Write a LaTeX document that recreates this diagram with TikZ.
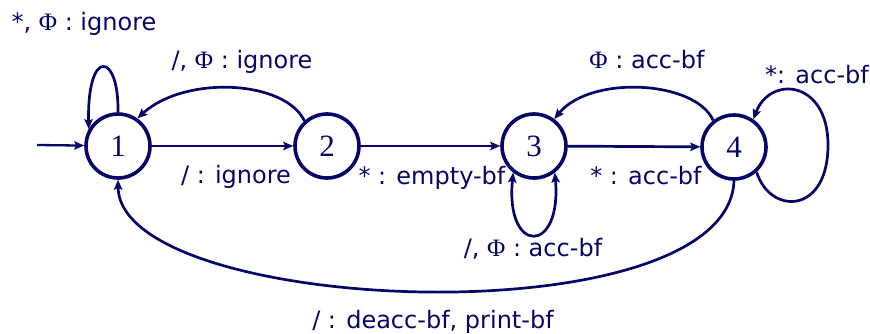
\documentclass[tikz,border=0pt]{standalone}
\usepackage{fontspec}
\setmainfont{DejaVu Sans}
\newfontfamily\statefont{Liberation Serif}
\usetikzlibrary{arrows.meta}
\definecolor{navy}{RGB}{6,6,105}
% serif capital phi used inside the transition labels
\newcommand{\phisym}{{\statefont\fontsize{25}{25}\selectfont Φ}}
\begin{document}
\begin{tikzpicture}[x=1pt,y=-1pt,
  >={Stealth[length=10pt,width=8.5pt,inset=2pt]},
  state/.style={circle,draw=navy,line width=3.6pt,minimum size=64pt,inner sep=0pt,
    text=navy,font=\statefont\fontsize{31}{31}\selectfont},
  edge/.style={draw=navy,line width=2.7pt,->},
  lbl/.style={anchor=base,inner sep=0pt,text=navy,font=\fontsize{24}{28}\selectfont}]
\useasboundingbox (0,0) rectangle (870,334);

% states
\node[state] (s1) at (118,146) {1};
\node[state] (s2) at (327,146) {2};
\node[state] (s3) at (534,146) {3};
\node[state] (s4) at (734,147) {4};
\coordinate (start) at (37,145);

% transitions
\draw[edge,line width=2.3pt] (start) -- (s1);
\draw[edge] (s1) -- (s2);
\draw[edge] (s2) -- (s3);
\draw[edge] (s3) -- (s4);
\draw[edge] (s1.north) .. controls (119,52) and (87,47) .. (s1.150);
\draw[edge] (s2.132) .. controls (285,80) and (185,75) .. (s1.55);
\draw[edge] (s4.128) .. controls (695,80) and (590,75) .. (s3.53);
\draw[edge,<->] (s3.-128) .. controls (505,255) and (562,255) .. (s3.-52);
\draw[edge] (s4.-48) .. controls (770,215) and (828,215) .. (828,145)
  .. controls (828,80) and (770,75) .. (s4.55);
\draw[edge] (s4.south) .. controls (728,340) and (120,316) .. (s1.south);

% labels
\node[lbl] (l11) at (84,31) {*, \phisym{} : ignore};
\node[lbl] (l21) at (242,69) {/, \phisym{} : ignore};
\node[lbl] (l12) at (236,183) {/ : ignore};
\node[lbl] (l23) at (432,184) {* : empty-bf};
\node[lbl] (l34) at (646,184) {* : acc-bf};
\node[lbl] (l43) at (647,69) {\phisym{} : acc-bf};
\node[lbl] (l44) at (817,84) {*: acc-bf};
\node[lbl] (l33) at (533,256) {/, \phisym{} : acc-bf};
\node[lbl] (l41) at (433,328) {/ : deacc-bf, print-bf};
\end{tikzpicture}
\end{document}
